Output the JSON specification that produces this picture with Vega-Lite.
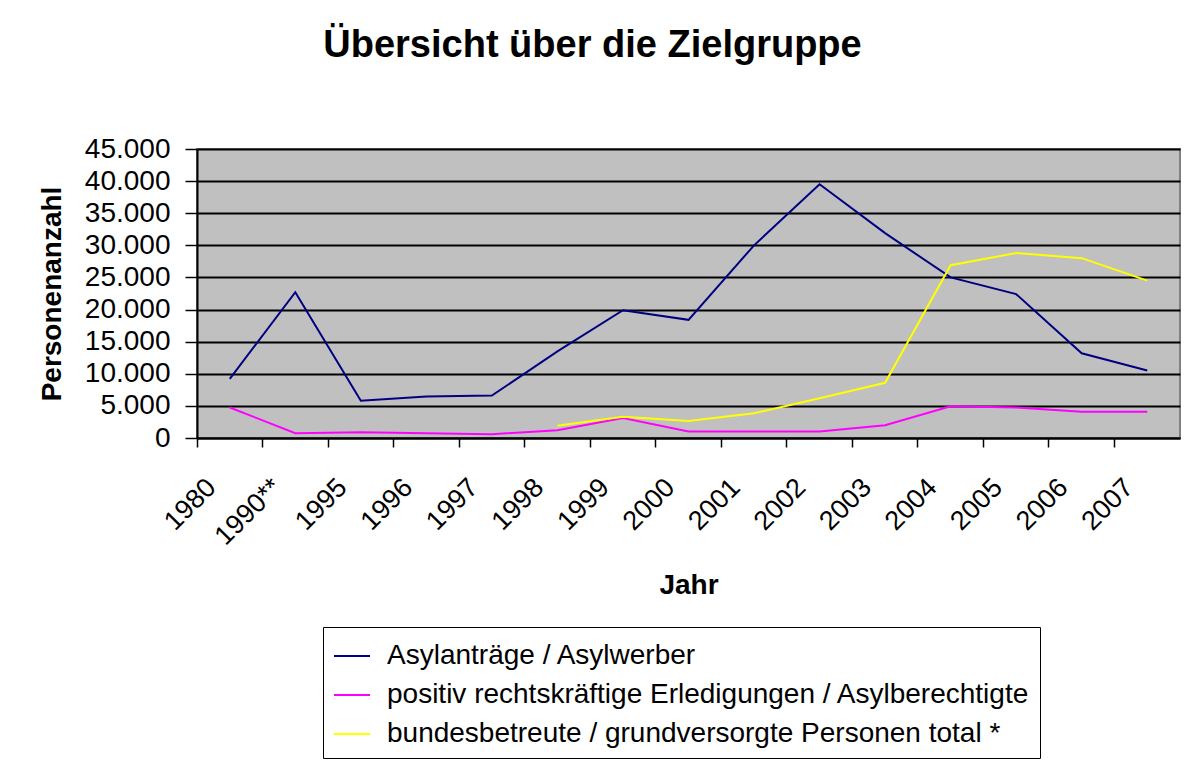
{
  "$schema": "https://vega.github.io/schema/vega-lite/v6.json",
  "width": 983,
  "height": 289,
  "autosize": {"type": "none"},
  "padding": {"left": 197, "top": 149, "right": 10, "bottom": 325},
  "background": "white",
  "title": {
    "text": "Übersicht über die Zielgruppe",
    "font": "Liberation Sans",
    "fontSize": 38,
    "fontWeight": "bold",
    "color": "black",
    "anchor": "middle",
    "dx": -96,
    "offset": 70
  },
  "data": {
    "values": [
      {"jahr": "1980", "serie": "Asylanträge / Asylwerber", "wert": 9200},
      {"jahr": "1990**", "serie": "Asylanträge / Asylwerber", "wert": 22700},
      {"jahr": "1995", "serie": "Asylanträge / Asylwerber", "wert": 5800},
      {"jahr": "1996", "serie": "Asylanträge / Asylwerber", "wert": 6450},
      {"jahr": "1997", "serie": "Asylanträge / Asylwerber", "wert": 6600},
      {"jahr": "1998", "serie": "Asylanträge / Asylwerber", "wert": 13500},
      {"jahr": "1999", "serie": "Asylanträge / Asylwerber", "wert": 19900},
      {"jahr": "2000", "serie": "Asylanträge / Asylwerber", "wert": 18400},
      {"jahr": "2001", "serie": "Asylanträge / Asylwerber", "wert": 30000},
      {"jahr": "2002", "serie": "Asylanträge / Asylwerber", "wert": 39500},
      {"jahr": "2003", "serie": "Asylanträge / Asylwerber", "wert": 31900},
      {"jahr": "2004", "serie": "Asylanträge / Asylwerber", "wert": 25000},
      {"jahr": "2005", "serie": "Asylanträge / Asylwerber", "wert": 22400},
      {"jahr": "2006", "serie": "Asylanträge / Asylwerber", "wert": 13200},
      {"jahr": "2007", "serie": "Asylanträge / Asylwerber", "wert": 10500},
      {"jahr": "1980", "serie": "positiv rechtskräftige Erledigungen / Asylberechtigte", "wert": 4750},
      {"jahr": "1990**", "serie": "positiv rechtskräftige Erledigungen / Asylberechtigte", "wert": 750},
      {"jahr": "1995", "serie": "positiv rechtskräftige Erledigungen / Asylberechtigte", "wert": 900},
      {"jahr": "1996", "serie": "positiv rechtskräftige Erledigungen / Asylberechtigte", "wert": 750},
      {"jahr": "1997", "serie": "positiv rechtskräftige Erledigungen / Asylberechtigte", "wert": 600},
      {"jahr": "1998", "serie": "positiv rechtskräftige Erledigungen / Asylberechtigte", "wert": 1200},
      {"jahr": "1999", "serie": "positiv rechtskräftige Erledigungen / Asylberechtigte", "wert": 3100},
      {"jahr": "2000", "serie": "positiv rechtskräftige Erledigungen / Asylberechtigte", "wert": 1000},
      {"jahr": "2001", "serie": "positiv rechtskräftige Erledigungen / Asylberechtigte", "wert": 1000},
      {"jahr": "2002", "serie": "positiv rechtskräftige Erledigungen / Asylberechtigte", "wert": 1000},
      {"jahr": "2003", "serie": "positiv rechtskräftige Erledigungen / Asylberechtigte", "wert": 2000},
      {"jahr": "2004", "serie": "positiv rechtskräftige Erledigungen / Asylberechtigte", "wert": 4950},
      {"jahr": "2005", "serie": "positiv rechtskräftige Erledigungen / Asylberechtigte", "wert": 4750},
      {"jahr": "2006", "serie": "positiv rechtskräftige Erledigungen / Asylberechtigte", "wert": 4100},
      {"jahr": "2007", "serie": "positiv rechtskräftige Erledigungen / Asylberechtigte", "wert": 4100},
      {"jahr": "1998", "serie": "bundesbetreute / grundversorgte Personen total *", "wert": 1900},
      {"jahr": "1999", "serie": "bundesbetreute / grundversorgte Personen total *", "wert": 3300},
      {"jahr": "2000", "serie": "bundesbetreute / grundversorgte Personen total *", "wert": 2650},
      {"jahr": "2001", "serie": "bundesbetreute / grundversorgte Personen total *", "wert": 3850},
      {"jahr": "2002", "serie": "bundesbetreute / grundversorgte Personen total *", "wert": 6200},
      {"jahr": "2003", "serie": "bundesbetreute / grundversorgte Personen total *", "wert": 8600},
      {"jahr": "2004", "serie": "bundesbetreute / grundversorgte Personen total *", "wert": 26900},
      {"jahr": "2005", "serie": "bundesbetreute / grundversorgte Personen total *", "wert": 28800},
      {"jahr": "2006", "serie": "bundesbetreute / grundversorgte Personen total *", "wert": 28000},
      {"jahr": "2007", "serie": "bundesbetreute / grundversorgte Personen total *", "wert": 24500}
    ]
  },
  "mark": {"type": "line", "strokeWidth": 2},
  "encoding": {
    "x": {
      "field": "jahr",
      "type": "ordinal",
      "sort": ["1980", "1990**", "1995", "1996", "1997", "1998", "1999", "2000", "2001", "2002", "2003", "2004", "2005", "2006", "2007"],
      "scale": {"type": "band", "paddingInner": 0, "paddingOuter": 0},
      "axis": {
        "title": "Jahr",
        "titleFont": "Liberation Sans",
        "titleFontSize": 28,
        "titleFontWeight": "bold",
        "titleColor": "black",
        "titlePadding": 22,
        "labelFont": "Liberation Sans",
        "labelFontSize": 27,
        "labelColor": "black",
        "labelAngle": -45,
        "labelAlign": "right",
        "labelBaseline": "middle",
        "labelPadding": 36,
        "labelOffset": -18,
        "bandPosition": 0,
        "tickSize": 9,
        "tickColor": "black",
        "tickWidth": 1.5,
        "domainColor": "black",
        "domainWidth": 2,
        "grid": false
      }
    },
    "y": {
      "field": "wert",
      "type": "quantitative",
      "scale": {"domain": [0, 45000], "nice": false},
      "axis": {
        "title": "Personenanzahl",
        "titleFont": "Liberation Sans",
        "titleFontSize": 28,
        "titleFontWeight": "bold",
        "titleColor": "black",
        "titlePadding": 18,
        "values": [0, 5000, 10000, 15000, 20000, 25000, 30000, 35000, 40000, 45000],
        "labelExpr": "replace(format(datum.value, ','), ',', '.')",
        "labelFont": "Liberation Sans",
        "labelFontSize": 28,
        "labelColor": "black",
        "labelPadding": 15,
        "tickSize": 12,
        "tickColor": "black",
        "tickWidth": 1.5,
        "domainColor": "black",
        "domainWidth": 2,
        "grid": true,
        "gridColor": "black",
        "gridWidth": 2
      }
    },
    "color": {
      "field": "serie",
      "type": "nominal",
      "scale": {
        "domain": ["Asylanträge / Asylwerber", "positiv rechtskräftige Erledigungen / Asylberechtigte", "bundesbetreute / grundversorgte Personen total *"],
        "range": ["#000080", "#FF00FF", "#FFFF00"]
      },
      "legend": {
        "title": null,
        "orient": "none",
        "legendX": 126,
        "legendY": 478,
        "direction": "vertical",
        "strokeColor": "black",
        "fillColor": "white",
        "padding": 10,
        "symbolType": "stroke",
        "symbolSize": 1296,
        "symbolStrokeWidth": 2,
        "labelFont": "Liberation Sans",
        "labelFontSize": 28,
        "labelColor": "black",
        "labelLimit": 900,
        "labelOffset": 16,
        "rowPadding": 6
      }
    }
  },
  "config": {
    "view": {"fill": "#C0C0C0", "stroke": "#808080", "strokeWidth": 2}
  }
}
